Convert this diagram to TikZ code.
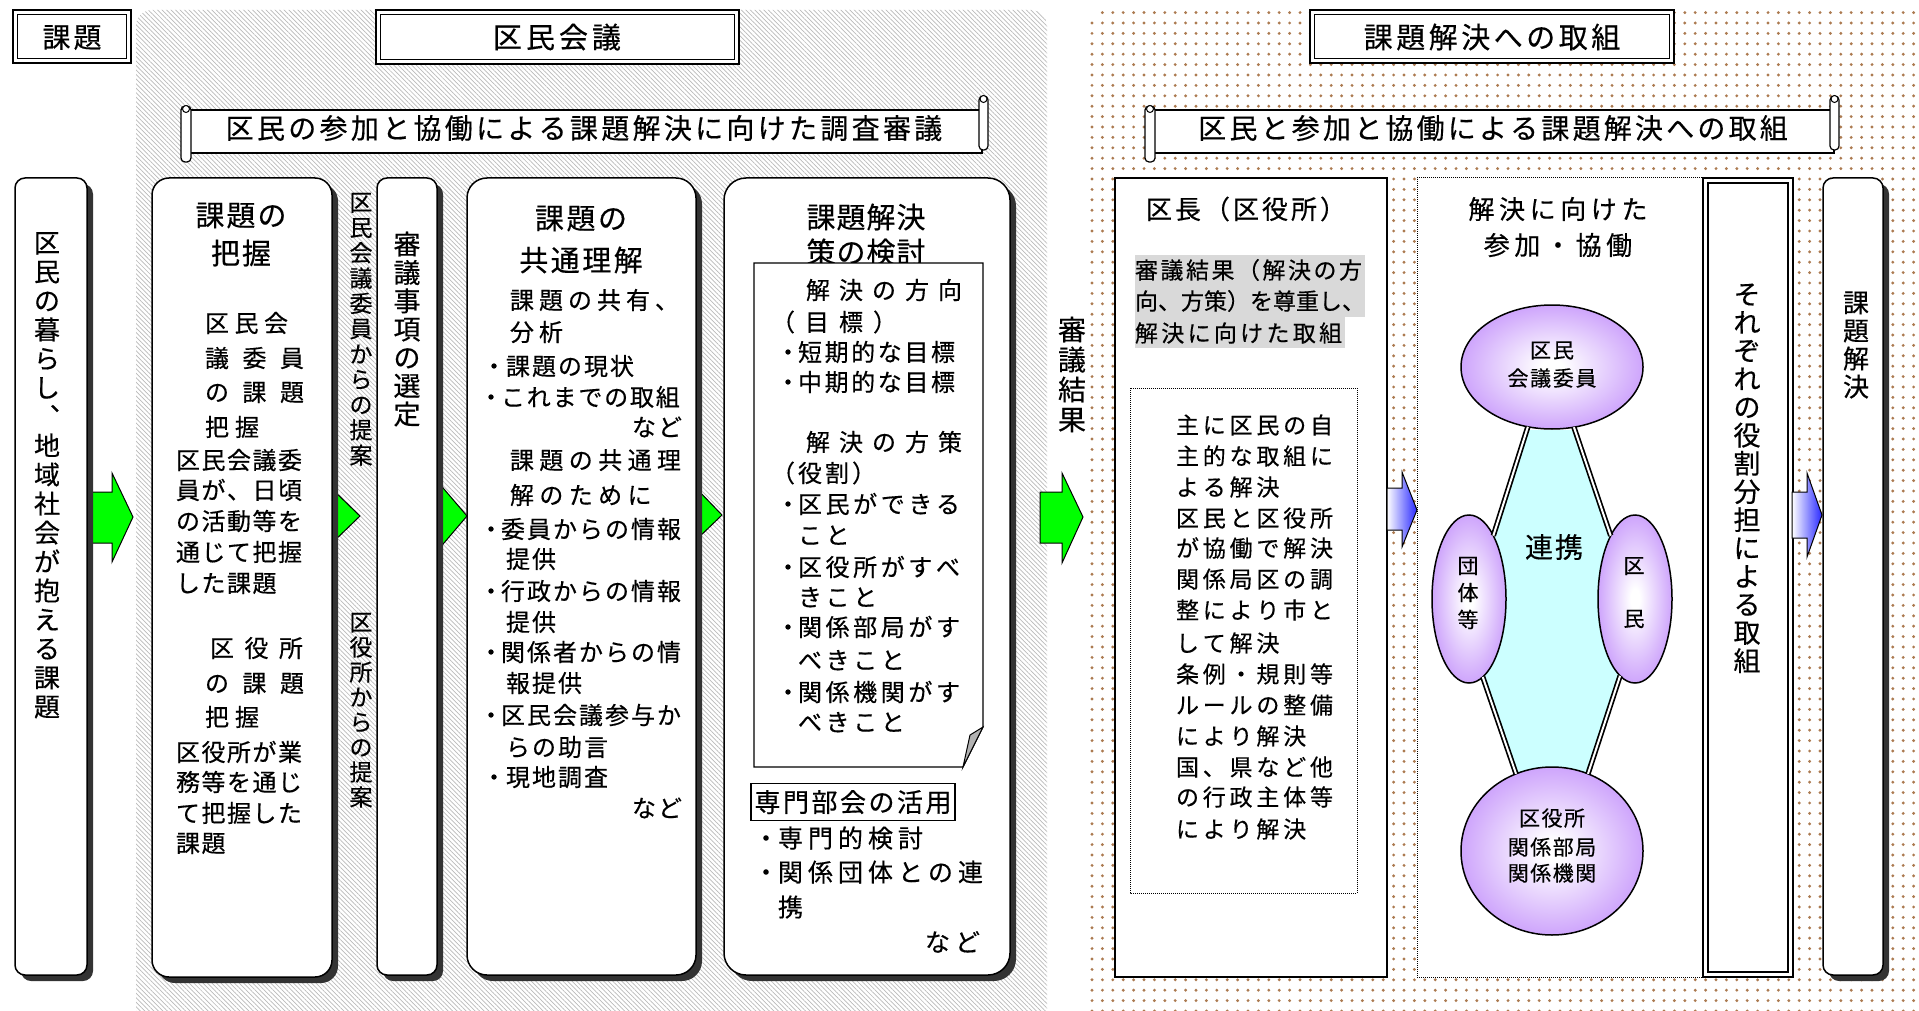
\documentclass[tikz,border=0pt]{standalone}
\usepackage{fontspec}
\setmainfont{Noto Sans CJK JP}[FakeBold=0.4]
\usetikzlibrary{patterns.meta,shadows,shapes.geometric}
\definecolor{grn}{RGB}{0,255,0}
\definecolor{blu}{RGB}{40,40,255}
\definecolor{cyn}{RGB}{204,255,255}
\definecolor{purp}{RGB}{186,128,250}
\definecolor{dotc}{RGB}{172,122,80}
\definecolor{hl}{RGB}{217,217,217}
\definecolor{shd}{RGB}{51,51,51}
\pgfdeclareradialshading{purpsh}{\pgfpoint{0bp}{0bp}}{color(0bp)=(white); color(3bp)=(white); color(34bp)=(purp); color(50bp)=(purp)}
\makeatletter
\newcommand\jl[2]{\mbox{\vrule height .88em depth .12em width 0pt\@tfor\jc:=#2\do{\makebox[#1][l]{\jc}}\kern-\dimexpr#1-1em\relax}}
\newcommand\jv[2]{\vbox{\offinterlineskip\@tfor\jc:=#2\do{\hbox to 1em{\hss\vbox to #1{\vss\hbox{\vrule height .88em depth .12em width 0pt\jc}\vss}\hss}}}}
\makeatother
\newcommand\fs[1]{\fontsize{#1}{#1}\selectfont}
\newcommand\bul[1]{\makebox[#1][c]{・}}
\begin{document}
\begin{tikzpicture}[x=1pt,y=-1pt,
 every node/.style={inner sep=0pt,outer sep=0pt},
 tl/.style={anchor=west}, tc/.style={anchor=center}, te/.style={anchor=east}, tv/.style={anchor=north},
 shadowed/.style={drop shadow={shadow xshift=6pt,shadow yshift=-6pt,opacity=1,fill=shd}},
 colbox/.style={draw=black,line width=1.5pt,fill=white,anchor=north west,shadowed},
 titlebox/.style={draw=black,line width=2.4pt,fill=white,anchor=north west},
 garrow/.style={fill=grn,draw=black,line width=1pt},
 barrow/.style={left color=white,right color=blu,draw=black,line width=1pt},
 pell/.style={ellipse,draw=black,line width=1.5pt,shading=purpsh,shade},
 dbl/.style={draw=black,line width=1.7pt,double=white,double distance=2pt},
 scrollpart/.style={draw=black,line width=1.2pt,fill=white}]
\useasboundingbox (0,0) rectangle (1919,1011);
\fill[white] (0,0) rectangle (1919,1011);
% panels
\path[pattern={Lines[angle=-45,distance=3.2pt,line width=0.7pt]},pattern color=black!27,rounded corners=16pt] (136,1030) -- (136,10) -- (1047,10) -- (1047,1030) -- cycle;
\path[pattern={Dots[distance=10.4pt,radius=1.6pt]},pattern color=dotc,rounded corners=20pt] (1085,1030) -- (1085,10) -- (1940,10) -- (1940,1030) -- cycle;
% title boxes
\node[titlebox,minimum width=118pt,minimum height=53pt] (t1) at (13,10) {};
\draw[line width=1.1pt] ([shift={(4.5,4.5)}]t1.north west) rectangle ([shift={(-4.5,-4.5)}]t1.south east);
\node[tc,font=\fs{28}] (t1x) at (72,37) {\jl{31pt}{課題}};
\node[titlebox,minimum width=363pt,minimum height=54pt] (t2) at (376,10) {};
\draw[line width=1.1pt] ([shift={(4.5,4.5)}]t2.north west) rectangle ([shift={(-4.5,-4.5)}]t2.south east);
\node[tc,font=\fs{29}] (t2x) at (557,37) {\jl{33pt}{区民会議}};
\node[titlebox,minimum width=364pt,minimum height=53pt] (t3) at (1310,10) {};
\draw[line width=1.1pt] ([shift={(4.5,4.5)}]t3.north west) rectangle ([shift={(-4.5,-4.5)}]t3.south east);
\node[tc,font=\fs{29}] (t3x) at (1492,37) {\jl{32.5pt}{課題解決への取組}};
% banners
\path[scrollpart] (188,110) rectangle (982,153);
\path[scrollpart,rounded corners=4pt] (181,106) rectangle (191,162);
\draw[line width=1pt,fill=white] (186,109) circle (3.5);
\path[scrollpart,rounded corners=4pt] (979,96) rectangle (988,150);
\draw[line width=1pt,fill=white] (983.5,99) circle (3.5);
\node[tc,font=\fs{28}] (bn1) at (584,128) {\jl{31.3pt}{区民の参加と協働による課題解決に向けた調査審議}};
\path[scrollpart] (1152,110) rectangle (1834,153);
\path[scrollpart,rounded corners=4pt] (1145,106) rectangle (1155,162);
\draw[line width=1pt,fill=white] (1150,109) circle (3.5);
\path[scrollpart,rounded corners=4pt] (1830,96) rectangle (1839,150);
\draw[line width=1pt,fill=white] (1834.5,99) circle (3.5);
\node[tc,font=\fs{28}] (bn2) at (1493,128) {\jl{31.2pt}{区民と参加と協働による課題解決への取組}};
% green arrows partly under boxes
\path[garrow] (85,492) -- (112,492) -- (112,473) -- (133,517) -- (112,562) -- (112,543) -- (85,543) -- cycle;
\path[garrow] (330,487) -- (360,516) -- (330,545) -- cycle;
\path[garrow] (432,475) -- (467,516) -- (432,557) -- cycle;
\path[garrow] (696,488) -- (722,515) -- (696,540) -- cycle;
% column boxes
\node[colbox,rounded corners=10pt,minimum width=72pt,minimum height=797pt] (A) at (15,178) {};
\node[colbox,rounded corners=17pt,minimum width=180pt,minimum height=799pt] (B) at (152,178) {};
\node[colbox,rounded corners=10pt,minimum width=60pt,minimum height=797pt] (D) at (377,178) {};
\node[colbox,rounded corners=20pt,minimum width=229pt,minimum height=797pt] (E) at (467,178) {};
\node[colbox,rounded corners=22pt,minimum width=286pt,minimum height=797pt] (F) at (724,178) {};
\node[draw=black,line width=1.7pt,fill=white,anchor=north west,minimum width=272pt,minimum height=799pt] (G) at (1115,178) {};
\node[draw=black,densely dotted,line width=1pt,fill=white,anchor=north west,minimum width=286pt,minimum height=799pt] (H) at (1417,178) {};
\node[draw=black,line width=1.2pt,fill=white,anchor=north west,minimum width=90pt,minimum height=799pt] (I) at (1703,178) {};
\draw[line width=2.4pt] ([shift={(5,5)}]I.north west) rectangle ([shift={(-5,-5)}]I.south east);
\node[colbox,rounded corners=10pt,minimum width=60pt,minimum height=797pt] (J) at (1823,178) {};
% big green arrow and blue arrows
\path[garrow] (1040,492) -- (1062,492) -- (1062,473) -- (1083,517) -- (1062,563) -- (1062,543) -- (1040,543) -- cycle;
\path[barrow] (1387,488) -- (1402,488) -- (1402,472) -- (1417,510) -- (1402,547) -- (1402,530) -- (1387,530) -- cycle;
\path[barrow] (1792,492) -- (1807,492) -- (1807,473) -- (1822,515) -- (1807,557) -- (1807,538) -- (1792,538) -- cycle;
% vertical texts
\node[tv,font=\fs{26}] (av) at (47,228) {\jv{29pt}{区民の暮らし︑地域社会が抱える課題}};
\node[tv,font=\fs{23}] (cv1) at (361,189.5) {\jv{25.3pt}{区民会議委員からの提案}};
\node[tv,font=\fs{23}] (cv2) at (361,609.5) {\jv{25pt}{区役所からの提案}};
\node[tv,font=\fs{27}] (dv) at (407,230) {\jv{28.3pt}{審議事項の選定}};
\node[tv,font=\fs{28}] (sv) at (1072,314.5) {\jv{30pt}{審議結果}};
\node[tv,font=\fs{27}] (iv) at (1747,280) {\jv{28.2pt}{それぞれの役割分担による取組}};
\node[tv,font=\fs{26}] (jv) at (1856,288.5) {\jv{28pt}{課題解決}};
% box B
\node[tc,font=\fs{29}] (b1) at (241,215) {\jl{31pt}{課題の}};
\node[tc,font=\fs{29}] (b2) at (241,253) {\jl{31pt}{把握}};
\begin{scope}[every node/.append style={font=\fs{24}}]
\node[tl] (b3) at (205,323) {\jl{29.5pt}{区民会}};
\node[tl] (b4) at (205,358) {\jl{37.5pt}{議委員}};
\node[tl] (b5) at (205,392) {\jl{37.5pt}{の課題}};
\node[tl] (b6) at (205,427) {\jl{30pt}{把握}};
\node[tl] (b7) at (176,460) {\jl{25.5pt}{区民会議委}};
\node[tl] (b8) at (176,490) {\jl{25.5pt}{員が、日頃}};
\node[tl] (b9) at (176,521) {\jl{25.5pt}{の活動等を}};
\node[tl] (b10) at (176,552) {\jl{25.5pt}{通じて把握}};
\node[tl] (b11) at (176,583) {\jl{25.5pt}{した課題}};
\node[tl] (b12) at (210,648) {\jl{34.5pt}{区役所}};
\node[tl] (b13) at (205,683) {\jl{37.5pt}{の課題}};
\node[tl] (b14) at (205,717) {\jl{30pt}{把握}};
\node[tl] (b15) at (176,752) {\jl{25.5pt}{区役所が業}};
\node[tl] (b16) at (176,782) {\jl{25.5pt}{務等を通じ}};
\node[tl] (b17) at (176,813) {\jl{25.5pt}{て把握した}};
\node[tl] (b18) at (176,843) {\jl{25.5pt}{課題}};
\end{scope}
% box E
\node[tc,font=\fs{29}] (e1) at (581,218) {\jl{31.5pt}{課題の}};
\node[tc,font=\fs{29}] (e2) at (581,260) {\jl{31.5pt}{共通理解}};
\begin{scope}[every node/.append style={font=\fs{24}}]
\node[tl] (e3) at (510,300) {\jl{29pt}{課題の共有、}};
\node[tl] (e4) at (510,332) {\jl{29pt}{分析}};
\node[tl] (e5) at (482,366) {\bul{24pt}\jl{26pt}{課題の現状}};
\node[tl] (e6) at (481,397) {\bul{20pt}\jl{25.8pt}{これまでの取組}};
\node[te] (e7) at (682,427) {\jl{26pt}{など}};
\node[tl] (e8) at (510,460) {\jl{29.4pt}{課題の共通理}};
\node[tl] (e9) at (510,495) {\jl{29.4pt}{解のために}};
\node[tl] (e10) at (481,529) {\bul{20pt}\jl{26pt}{委員からの情報}};
\node[tl] (e11) at (506,559) {\jl{26pt}{提供}};
\node[tl] (e12) at (481,591) {\bul{20pt}\jl{26pt}{行政からの情報}};
\node[tl] (e13) at (506,622) {\jl{26pt}{提供}};
\node[tl] (e14) at (481,652) {\bul{20pt}\jl{26pt}{関係者からの情}};
\node[tl] (e15) at (506,683) {\jl{26pt}{報提供}};
\node[tl] (e16) at (481,715) {\bul{20pt}\jl{26pt}{区民会議参与か}};
\node[tl] (e17) at (506,747) {\jl{26pt}{らの助言}};
\node[tl] (e18) at (482,777) {\bul{24pt}\jl{26pt}{現地調査}};
\node[te] (e19) at (682,808) {\jl{26pt}{など}};
\end{scope}
% box F
\node[tc,font=\fs{29}] (f1) at (866,217) {\jl{30pt}{課題解決}};
\node[tc,font=\fs{29}] (f2) at (866,252) {\jl{30pt}{策の検討}};
\path[draw=black,line width=1.3pt,fill=white] (754,263) -- (983,263) -- (983,727) -- (963,767) -- (754,767) -- cycle;
\path[draw=black,line width=1pt,fill=black!30] (983,727) -- (970,735) -- (963,767) -- cycle;
\begin{scope}[every node/.append style={font=\fs{24}}]
\node[tl] (f3) at (806,290) {\jl{33pt}{解決の方向}};
\node[tl] (f4) at (771,322) {\jl{34pt}{（目標）}};
\node[tl] (f5) at (778,352) {\bul{20pt}\jl{26.6pt}{短期的な目標}};
\node[tl] (f6) at (778,382) {\bul{20pt}\jl{26.6pt}{中期的な目標}};
\node[tl] (f7) at (806,442) {\jl{33pt}{解決の方策}};
\node[tl] (f8) at (771,473) {\jl{27pt}{（役割）}};
\node[tl] (f9) at (778,504) {\bul{20pt}\jl{27.6pt}{区民ができる}};
\node[tl] (f10) at (798,535) {\jl{27.6pt}{こと}};
\node[tl] (f11) at (778,567) {\bul{20pt}\jl{27.6pt}{区役所がすべ}};
\node[tl] (f12) at (798,597) {\jl{27.6pt}{きこと}};
\node[tl] (f13) at (778,627) {\bul{20pt}\jl{27.6pt}{関係部局がす}};
\node[tl] (f14) at (798,660) {\jl{27.6pt}{べきこと}};
\node[tl] (f15) at (778,692) {\bul{20pt}\jl{27.6pt}{関係機関がす}};
\node[tl] (f16) at (798,722) {\jl{27.6pt}{べきこと}};
\end{scope}
\node[draw=black,line width=1.5pt,fill=white,minimum width=204pt,minimum height=37pt,font=\fs{26}] (f17) at (853,802) {\jl{28.5pt}{専門部会の活用}};
\begin{scope}[every node/.append style={font=\fs{25}}]
\node[tl] (f18) at (754,838) {\bul{24pt}\jl{30pt}{専門的検討}};
\node[tl] (f19) at (754,872) {\bul{24pt}\jl{30pt}{関係団体との連}};
\node[tl] (f20) at (778,907) {\jl{30pt}{携}};
\node[te] (f21) at (980,942) {\jl{30pt}{など}};
\end{scope}
% box G
\node[tc,font=\fs{26}] (g1) at (1246,209) {\jl{29pt}{区長（区役所）}};
\fill[hl] (1135,255) rectangle (1365,317);
\fill[hl] (1135,317) rectangle (1345,348);
\begin{scope}[every node/.append style={font=\fs{23}}]
\node[tl] (g2) at (1135,270) {\jl{25.5pt}{審議結果（解決の方}};
\node[tl] (g3) at (1135,301) {\jl{23pt}{向、方策）を尊重し、}};
\node[tl] (g4) at (1135,333) {\jl{26.3pt}{解決に向けた取組}};
\end{scope}
\draw[densely dotted,line width=1pt] (1130,388) rectangle (1357,893);
\begin{scope}[every node/.append style={font=\fs{23}}]
\node[tl] (g5) at (1176,425) {\jl{26.8pt}{主に区民の自}};
\node[tl] (g6) at (1176,456) {\jl{26.8pt}{主的な取組に}};
\node[tl] (g7) at (1176,487) {\jl{26.8pt}{よる解決}};
\node[tl] (g8) at (1176,518) {\jl{26.8pt}{区民と区役所}};
\node[tl] (g9) at (1176,548) {\jl{26.8pt}{が協働で解決}};
\node[tl] (g10) at (1176,579) {\jl{26.8pt}{関係局区の調}};
\node[tl] (g11) at (1176,610) {\jl{26.8pt}{整により市と}};
\node[tl] (g12) at (1176,643) {\jl{26.8pt}{して解決}};
\node[tl] (g13) at (1176,674) {\jl{26.8pt}{条例・規則等}};
\node[tl] (g14) at (1176,705) {\jl{26.8pt}{ルールの整備}};
\node[tl] (g15) at (1176,736) {\jl{26.8pt}{により解決}};
\node[tl] (g16) at (1176,767) {\jl{26.8pt}{国、県など他}};
\node[tl] (g17) at (1176,797) {\jl{26.8pt}{の行政主体等}};
\node[tl] (g18) at (1176,829) {\jl{26.8pt}{により解決}};
\end{scope}
% box H
\node[tc,font=\fs{26}] (h1) at (1558,209) {\jl{30.6pt}{解決に向けた}};
\node[tc,font=\fs{26}] (h2) at (1558,245) {\jl{30.6pt}{参加・協働}};
\fill[cyn] (1527,430) -- (1575,430) -- (1610,533) -- (1620,678) -- (1588,773) -- (1515,773) -- (1483,678) -- (1495,532) -- cycle;
\node[pell,minimum width=182pt,minimum height=124pt] (el1) at (1552,367) {};
\node[pell,minimum width=74pt,minimum height=168pt] (el2) at (1469,599) {};
\node[pell,minimum width=74pt,minimum height=168pt] (el3) at (1635,599) {};
\node[pell,minimum width=182pt,minimum height=168pt] (el4) at (1552,851) {};
\draw[dbl] (el1.248) -- (el2.69);
\draw[dbl] (el1.290) -- (el3.111);
\draw[dbl] (el2.280) -- (el4.115);
\draw[dbl] (el3.259) -- (el4.65);
\node[tc,font=\fs{28}] (h3) at (1554,547) {\jl{30pt}{連携}};
\begin{scope}[every node/.append style={font=\fs{21}}]
\node[tc] (h4) at (1552,350) {\jl{23pt}{区民}};
\node[tc] (h5) at (1552,378) {\jl{22.7pt}{会議委員}};
\node[tc] (h6) at (1552,818) {\jl{22.5pt}{区役所}};
\node[tc] (h7) at (1552,847) {\jl{22.5pt}{関係部局}};
\node[tc] (h8) at (1552,873) {\jl{22.5pt}{関係機関}};
\node[tv] (h9) at (1468,552) {\jv{27pt}{団体等}};
\node[tv] (h10) at (1634,539) {\jv{53pt}{区民}};
\end{scope}
\end{tikzpicture}
\end{document}
